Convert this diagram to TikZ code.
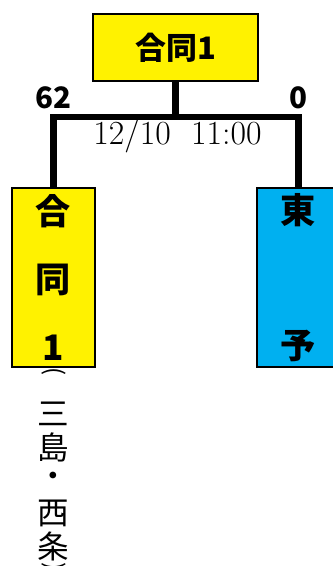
\documentclass[tikz,border=0pt]{standalone}
\usepackage{fontspec}
\newfontfamily\jp{Noto Sans CJK JP}
\definecolor{teamblue}{HTML}{00B0F0}
\usetikzlibrary{positioning}

\begin{document}
\begin{tikzpicture}[
  box/.style={draw, line width=1.2pt, inner sep=0pt},
  team/.style={box, minimum width=2.075cm, minimum height=4.475cm, align=center, font=\jp\bfseries\fontsize{25}{48.2}\selectfont},
  bar/.style={line width=4.3pt, line join=miter},
  score/.style={font=\jp\bfseries\fontsize{21}{21}\selectfont, inner sep=0pt},
  sub/.style={font=\jp\fontsize{22.5}{22.5}\selectfont, inner sep=0pt},
  paren/.style={sub, rotate=-90, font=\jp\fontsize{17}{17}\selectfont}
]
\useasboundingbox (0,0) rectangle (8.3,-14.15);

\node[box, fill=yellow, minimum width=4.125cm, minimum height=1.675cm, font=\jp\bfseries\fontsize{22}{22}\selectfont] (win) at (4.3875,-1.1875) {合同1};
\node[team, fill=yellow] (left) at (1.3375,-6.9375) {合\\同\\1};
\node[team, fill=teamblue] (right) at (7.4625,-6.9375) {東\\[48.2pt]予};

% vertical name under the left team
\node[paren] (po) at (1.3375,-9.3) {(};
\foreach \c [count=\i] in {三,島,・,西,条}
  \node[sub] (sub\i) at (1.3375,{-9.525-0.825*\i}) {\c};
\node[paren] (pc) at (1.3375,-14.175) {)};

\coordinate (jl) at (1.3375,-2.925);
\coordinate (jm) at (4.3875,-2.925);
\coordinate (jr) at (7.4625,-2.925);

\draw[bar] (win) -- (jm);
\draw[bar] (left) -- (jl) -- (jr) -- (right);

\node[score, above=0.19cm of jl] (s1) {62};
\node[score, above=0.19cm of jr] (s2) {0};
\node[font=\fontsize{24}{24}\selectfont, inner sep=0pt] (date) at (4.4375,-3.4) {12/10\ \ 11:00};

\end{tikzpicture}
\end{document}
